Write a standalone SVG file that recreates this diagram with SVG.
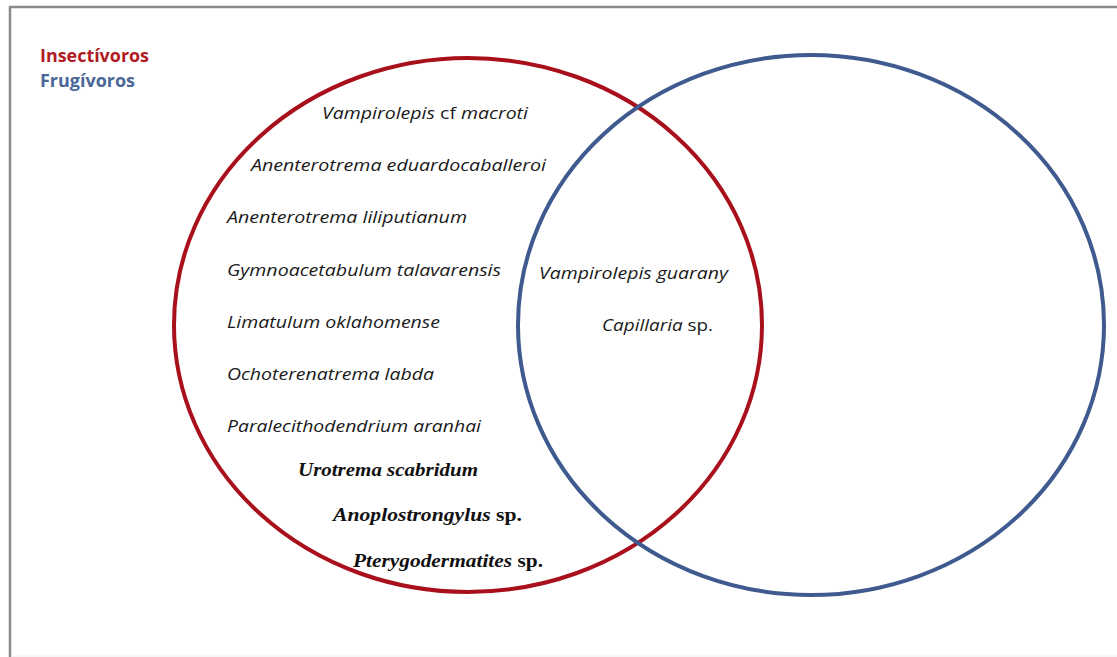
<svg xmlns="http://www.w3.org/2000/svg" width="1117" height="657" viewBox="0 0 1117 657">
<style>
.sp{font-family:"Open Sans",Lato,"Liberation Sans",sans-serif;font-style:italic;font-size:17px;fill:#1a1a1a}
.bs{font-family:"Liberation Serif","Times New Roman",serif;font-style:italic;font-weight:bold;font-size:19px;fill:#111}
.n{font-style:normal}
.lg{font-family:"Open Sans",Lato,"Liberation Sans",sans-serif;font-weight:bold;font-size:17px}
</style>
<rect x="0" y="0" width="1117" height="657" fill="#fff"/>
<g id="frame" fill="none" stroke="#8a8a8a" stroke-width="2.5">
<line x1="9" y1="7" x2="1117" y2="7"/>
<line x1="10" y1="6" x2="10" y2="657"/>
</g>
<line x1="11" y1="656" x2="1117" y2="656" stroke="#eeeeee" stroke-width="1"/>
<g id="legend">
<text class="lg" x="40" y="62" fill="#b01c24" textLength="109" lengthAdjust="spacingAndGlyphs">Insectívoros</text>
<text class="lg" x="40" y="87" fill="#4a6798" textLength="95" lengthAdjust="spacingAndGlyphs">Frugívoros</text>
</g>
<g id="insectivoros">
<ellipse cx="468" cy="325" rx="294" ry="267" fill="none" stroke="#a8101c" stroke-width="4"/>
</g>
<g id="frugivoros">
<ellipse cx="811" cy="325" rx="293" ry="270" fill="none" stroke="#3f5a8f" stroke-width="4"/>
</g>
<g id="labels-insectivoros">
<text class="sp" x="322" y="119" textLength="206" lengthAdjust="spacingAndGlyphs">Vampirolepis <tspan class="n">cf</tspan> macroti</text>
<text class="sp" x="251" y="171" textLength="295" lengthAdjust="spacingAndGlyphs">Anenterotrema eduardocaballeroi</text>
<text class="sp" x="227" y="223" textLength="240" lengthAdjust="spacingAndGlyphs">Anenterotrema liliputianum</text>
<text class="sp" x="227" y="276" textLength="274" lengthAdjust="spacingAndGlyphs">Gymnoacetabulum talavarensis</text>
<text class="sp" x="227" y="328" textLength="213" lengthAdjust="spacingAndGlyphs">Limatulum oklahomense</text>
<text class="sp" x="227" y="380" textLength="207" lengthAdjust="spacingAndGlyphs">Ochoterenatrema labda</text>
<text class="sp" x="227" y="432" textLength="254" lengthAdjust="spacingAndGlyphs">Paralecithodendrium aranhai</text>
<text class="bs" x="298" y="476" textLength="180" lengthAdjust="spacingAndGlyphs">Urotrema scabridum</text>
<text class="bs" x="333" y="521" textLength="189" lengthAdjust="spacingAndGlyphs">Anoplostrongylus <tspan class="n">sp.</tspan></text>
<text class="bs" x="353" y="567" textLength="190" lengthAdjust="spacingAndGlyphs">Pterygodermatites <tspan class="n">sp.</tspan></text>
</g>
<g id="labels-shared">
<text class="sp" x="539" y="279" textLength="189" lengthAdjust="spacingAndGlyphs">Vampirolepis guarany</text>
<text class="sp" x="602" y="331" textLength="111" lengthAdjust="spacingAndGlyphs">Capillaria <tspan class="n">sp.</tspan></text>
</g>
</svg>
